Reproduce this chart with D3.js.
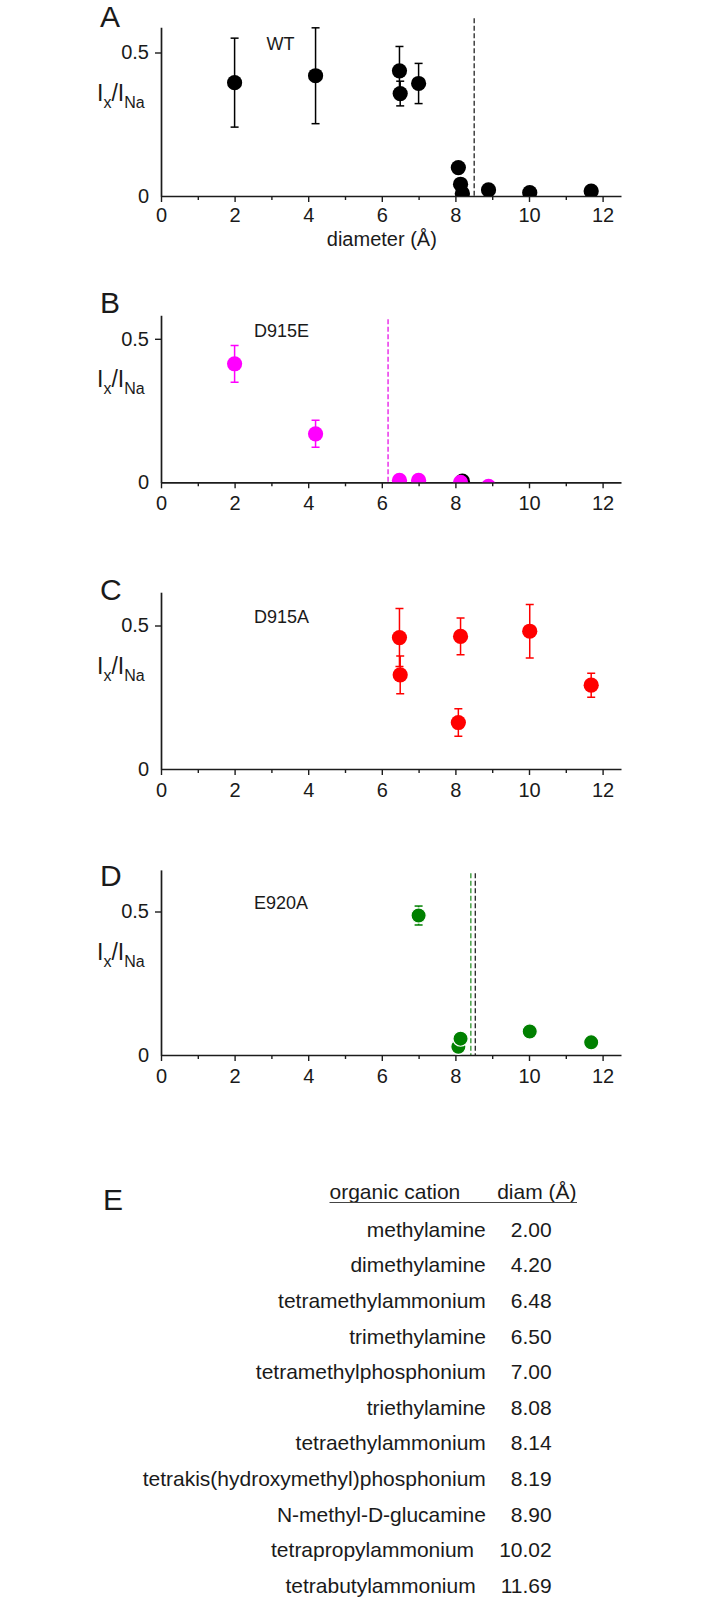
<!DOCTYPE html>
<html>
<head>
<meta charset="utf-8">
<script src="https://cdn.jsdelivr.net/npm/d3@7/dist/d3.min.js"></script>
<style>
  html, body { margin: 0; padding: 0; background: #fff; }
  svg { display: block; font-family: "Liberation Sans", Arial, Helvetica, sans-serif; }
</style>
</head>
<body>
<svg id="chart" width="717" height="1599"></svg>
<script>
// ---------------- DATA ----------------
const cations = ["methylamine", "dimethylamine", "tetramethylammonium", "trimethylamine",
  "tetramethylphosphonium", "triethylamine", "tetraethylammonium",
  "tetrakis(hydroxymethyl)phosphonium", "N-methyl-D-glucamine",
  "tetrapropylammonium", "tetrabutylammonium"];
const diamLabels = ["2.00", "4.20", "6.48", "6.50", "7.00", "8.08", "8.14", "8.19", "8.90", "10.02", "11.69"];
const diameters = [2.00, 4.20, 6.48, 6.50, 7.00, 8.08, 8.14, 8.19, 8.90, 10.02, 11.69];

const xTicks = [0, 2, 4, 6, 8, 10, 12];
const xMinorTicks = [1, 3, 5, 7, 9, 11];
const yTicks = [0, 0.5];
const yTickLabels = ["0", "0.5"];

// WT
const wtMean = [0.395, 0.419, 0.436, 0.357, 0.392, 0.099, 0.041, 0.009, 0.021, 0.012, 0.017];
const wtErr  = [0.155, 0.167, 0.085, 0.043, 0.070, null, null, null, null, null, null];
// D915E
const d915eMean = [0.413, 0.169, 0.007, null, 0.007, null, 0.000, null, -0.014, null, null];
const d915eErr  = [0.064, 0.047, null, null, null, null, null, null, null, null, null];
const d915eBlackMean = [null, null, null, null, null, null, null, 0.004, null, null, null];
// D915A
const d915aMean = [null, null, 0.458, 0.328, null, 0.162, 0.462, null, null, 0.480, 0.292];
const d915aErr  = [null, null, 0.101, 0.066, null, 0.048, 0.064, null, null, 0.093, 0.042];
// E920A
const e920aMean = [null, null, null, null, 0.486, 0.029, 0.057, null, null, 0.082, 0.044];
const e920aErr  = [null, null, null, null, 0.033, null, null, null, null, null, null];

// cut-off (dashed) lines: x position and top extent (in y units)
const cutA = [{x: 8.51, top: 0.619, color: "#111"}];
const cutB = [{x: 6.17, top: 0.568, color: "#e600e6"}];
const cutD = [{x: 8.42, top: 0.633, color: "#1a8a1a"}, {x: 8.54, top: 0.633, color: "#111"}];

const panelLetters = ["A", "B", "C", "D"];
const panelNames = ["WT", "D915E", "D915A", "E920A"];
const yMaxes = [0.588, 0.582, 0.616, 0.645];

// ---------------- LAYOUT ----------------
const svg = d3.select("#chart");
const AX = "#1c1c1c";
const x = d3.scaleLinear().domain([0, 12.5]).range([161, 621]);
const PX_PER_UNIT = 287;
const panelY0 = [196, 482.3, 769, 1055];
const R = 7.6;

function mk(means, errs, color) {
  return diameters.map((d, i) => ({d, m: means[i], e: errs ? errs[i] : null, color}))
    .filter(p => p.m !== null);
}

const panels = [
  {series: [mk(wtMean, wtErr, "#000")], cuts: cutA, xlabel: true, stroke: null},
  {series: [mk(d915eBlackMean, null, "#000"), mk(d915eMean, d915eErr, "#ff00ff")], cuts: cutB, xlabel: false, stroke: null},
  {series: [mk(d915aMean, d915aErr, "#ff0000")], cuts: [], xlabel: false, stroke: null},
  {series: [mk(e920aMean, e920aErr, "#008000")], cuts: cutD, xlabel: false, stroke: "#fff"}
];

const defs = svg.append("defs");

panels.forEach((p, pi) => {
  const y0 = panelY0[pi];
  const yMax = yMaxes[pi];
  const y = d3.scaleLinear().domain([0, yMax]).range([y0, y0 - yMax * PX_PER_UNIT]);
  const g = svg.append("g");

  const clipId = "clip" + pi;
  defs.append("clipPath").attr("id", clipId).append("rect")
    .attr("x", x(0) - 20).attr("y", y(yMax) - 40)
    .attr("width", x(12.5) - x(0) + 40).attr("height", y(0) - y(yMax) + 40);

  // dashed cut lines
  g.selectAll("line.cut").data(p.cuts).join("line")
    .attr("class", "cut")
    .attr("x1", d => x(d.x)).attr("x2", d => x(d.x))
    .attr("y1", d => y(d.top)).attr("y2", y(0))
    .attr("stroke", d => d.color).attr("stroke-width", 1.2)
    .attr("stroke-dasharray", "5,2.5");

  // x axis
  const xAxis = d3.axisBottom(x).tickValues(xTicks).tickFormat(d3.format("d"))
    .tickSize(6).tickSizeOuter(0).tickPadding(p.xlabel ? 6 : 8);
  const xg = g.append("g").attr("transform", `translate(0,${y0})`).call(xAxis);
  xg.select(".domain").attr("stroke", AX).attr("stroke-width", 1.7);
  xg.selectAll(".tick line").attr("stroke", AX).attr("stroke-width", 1.4);
  xg.selectAll(".tick text").attr("fill", "#1a1a1a").style("font-size", "20px")
    .style("font-family", "Liberation Sans, Arial, sans-serif");
  const xMinor = d3.axisBottom(x).tickValues(xMinorTicks).tickFormat("").tickSize(4).tickSizeOuter(0);
  const xmg = g.append("g").attr("transform", `translate(0,${y0})`).call(xMinor);
  xmg.select(".domain").remove();
  xmg.selectAll(".tick line").attr("stroke", AX).attr("stroke-width", 1.4);

  // y axis
  const yAxis = d3.axisLeft(y).tickValues(yTicks).tickFormat((d, i) => yTickLabels[i])
    .tickSize(6).tickSizeOuter(0).tickPadding(6);
  const yg = g.append("g").attr("transform", `translate(${x(0)},0)`).call(yAxis);
  yg.select(".domain").attr("stroke", AX).attr("stroke-width", 1.7);
  yg.selectAll(".tick line").attr("stroke", AX).attr("stroke-width", 1.4)
    .attr("opacity", (d) => d === 0 ? 0 : 1);
  yg.selectAll(".tick text").attr("fill", "#1a1a1a").style("font-size", "20px")
    .style("font-family", "Liberation Sans, Arial, sans-serif");

  // y label I_x / I_Na
  const yl = g.append("text").attr("x", 97).attr("y", y0 - 95).attr("fill", "#1a1a1a");
  yl.append("tspan").text("I").style("font-size", "23px");
  yl.append("tspan").text("x").style("font-size", "16px").attr("dy", 6.6);
  yl.append("tspan").text("/I").style("font-size", "23px").attr("dy", -6.6);
  yl.append("tspan").text("Na").style("font-size", "16px").attr("dy", 6.6);

  // panel letter
  g.append("text").attr("x", 100).attr("y", y0 - 169.3).text(panelLetters[pi])
    .style("font-size", "30px").attr("fill", "#1a1a1a");

  // series name
  g.append("text").attr("x", pi === 0 ? 266.5 : 254).attr("y", y(0.508))
    .text(panelNames[pi]).style("font-size", "18px").attr("fill", "#1a1a1a");

  if (p.xlabel) {
    g.append("text").attr("x", x(6)).attr("y", y0 + 50).attr("text-anchor", "middle")
      .text("diameter (Å)").style("font-size", "20px").attr("fill", "#1a1a1a");
  }

  // data
  const dg = g.append("g").attr("clip-path", `url(#${clipId})`);
  p.series.forEach(s => {
    const withErr = s.filter(q => q.e !== null);
    const eg = dg.append("g");
    withErr.forEach(q => {
      eg.append("line").attr("x1", x(q.d)).attr("x2", x(q.d))
        .attr("y1", y(q.m - q.e)).attr("y2", y(q.m + q.e))
        .attr("stroke", q.color).attr("stroke-width", 1.5);
      [q.m - q.e, q.m + q.e].forEach(v => {
        eg.append("line").attr("x1", x(q.d) - 4).attr("x2", x(q.d) + 4)
          .attr("y1", y(v)).attr("y2", y(v))
          .attr("stroke", q.color).attr("stroke-width", 1.5);
      });
    });
    dg.append("g").selectAll("circle").data(s).join("circle")
      .attr("cx", q => x(q.d)).attr("cy", q => y(q.m)).attr("r", R)
      .attr("fill", q => q.color)
      .attr("stroke", p.stroke || "none").attr("stroke-width", p.stroke ? 1.2 : 0);
  });
});

// ---------------- TABLE E ----------------
svg.append("text").attr("x", 103).attr("y", 1210).text("E")
  .style("font-size", "30px").attr("fill", "#1a1a1a");

const tg = svg.append("g").style("font-size", "21px").attr("fill", "#1a1a1a");
tg.append("text").attr("x", 329.5).attr("y", 1199).text("organic cation");
tg.append("text").attr("x", 576.5).attr("y", 1199).attr("text-anchor", "end").text("diam (Å)");
tg.append("line").attr("x1", 329.5).attr("x2", 577).attr("y1", 1202.5).attr("y2", 1202.5)
  .attr("stroke", "#444").attr("stroke-width", 1);

const rowY = i => 1236.7 + i * 35.6;
cations.forEach((name, i) => {
  const num = tg.append("text").attr("x", 551.7).attr("y", rowY(i))
    .attr("text-anchor", "end").text(diamLabels[i]);
  const w = num.node().getComputedTextLength();
  tg.append("text").attr("x", 551.7 - w - 25).attr("y", rowY(i))
    .attr("text-anchor", "end").text(name);
});
</script>
</body>
</html>
